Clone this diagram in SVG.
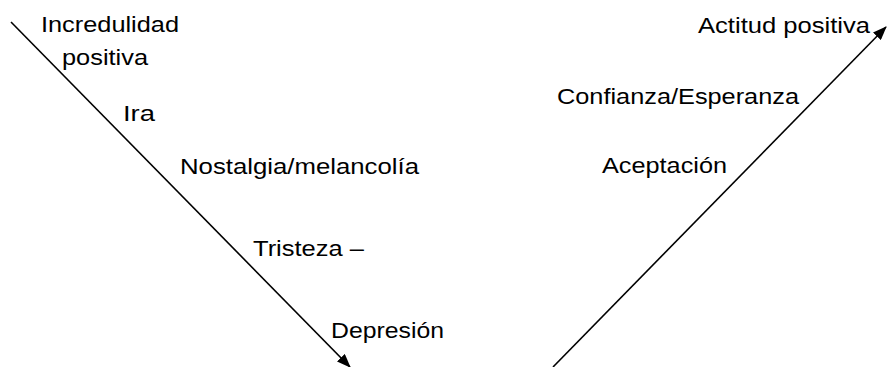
<svg xmlns="http://www.w3.org/2000/svg" width="888" height="367" viewBox="0 0 888 367">
  <style>
    .lbl { font-family: "Liberation Sans", Arial, sans-serif; font-size: 22.5px; fill: #000; }
    .edge { stroke: #000; stroke-width: 1.6; fill: none; }
  </style>
  <defs>
    <marker id="arrow" viewBox="0 0 14 11" refX="13" refY="5.5" markerWidth="14" markerHeight="11" markerUnits="userSpaceOnUse" orient="auto">
      <path d="M0,0 L14,5.5 L0,11 Z" fill="#000"/>
    </marker>
  </defs>
  <rect width="888" height="367" fill="#fff"/>

  <!-- descending and ascending branches of the V -->
  <g id="connectors">
    <line class="edge" x1="11" y1="22" x2="350" y2="367" marker-end="url(#arrow)"/>
    <line class="edge" x1="553" y1="367" x2="886" y2="27" marker-end="url(#arrow)"/>
  </g>

  <!-- stages on the way down -->
  <g id="incredulidad">
    <text class="lbl" x="41" y="32" textLength="138" lengthAdjust="spacingAndGlyphs">Incredulidad</text>
    <text class="lbl" x="62" y="65" textLength="86" lengthAdjust="spacingAndGlyphs">positiva</text>
  </g>
  <g id="ira">
    <text class="lbl" x="123" y="121" textLength="32" lengthAdjust="spacingAndGlyphs">Ira</text>
  </g>
  <g id="nostalgia">
    <text class="lbl" x="180" y="174" textLength="239" lengthAdjust="spacingAndGlyphs">Nostalgia/melancolía</text>
  </g>
  <g id="tristeza">
    <text class="lbl" x="253" y="256" textLength="111" lengthAdjust="spacingAndGlyphs">Tristeza –</text>
  </g>
  <g id="depresion">
    <text class="lbl" x="331" y="338" textLength="113" lengthAdjust="spacingAndGlyphs">Depresión</text>
  </g>

  <!-- stages on the way up -->
  <g id="aceptacion">
    <text class="lbl" x="602" y="173" textLength="125" lengthAdjust="spacingAndGlyphs">Aceptación</text>
  </g>
  <g id="confianza">
    <text class="lbl" x="557" y="104" textLength="242" lengthAdjust="spacingAndGlyphs">Confianza/Esperanza</text>
  </g>
  <g id="actitud">
    <text class="lbl" x="698" y="33" textLength="172" lengthAdjust="spacingAndGlyphs">Actitud positiva</text>
  </g>
</svg>
